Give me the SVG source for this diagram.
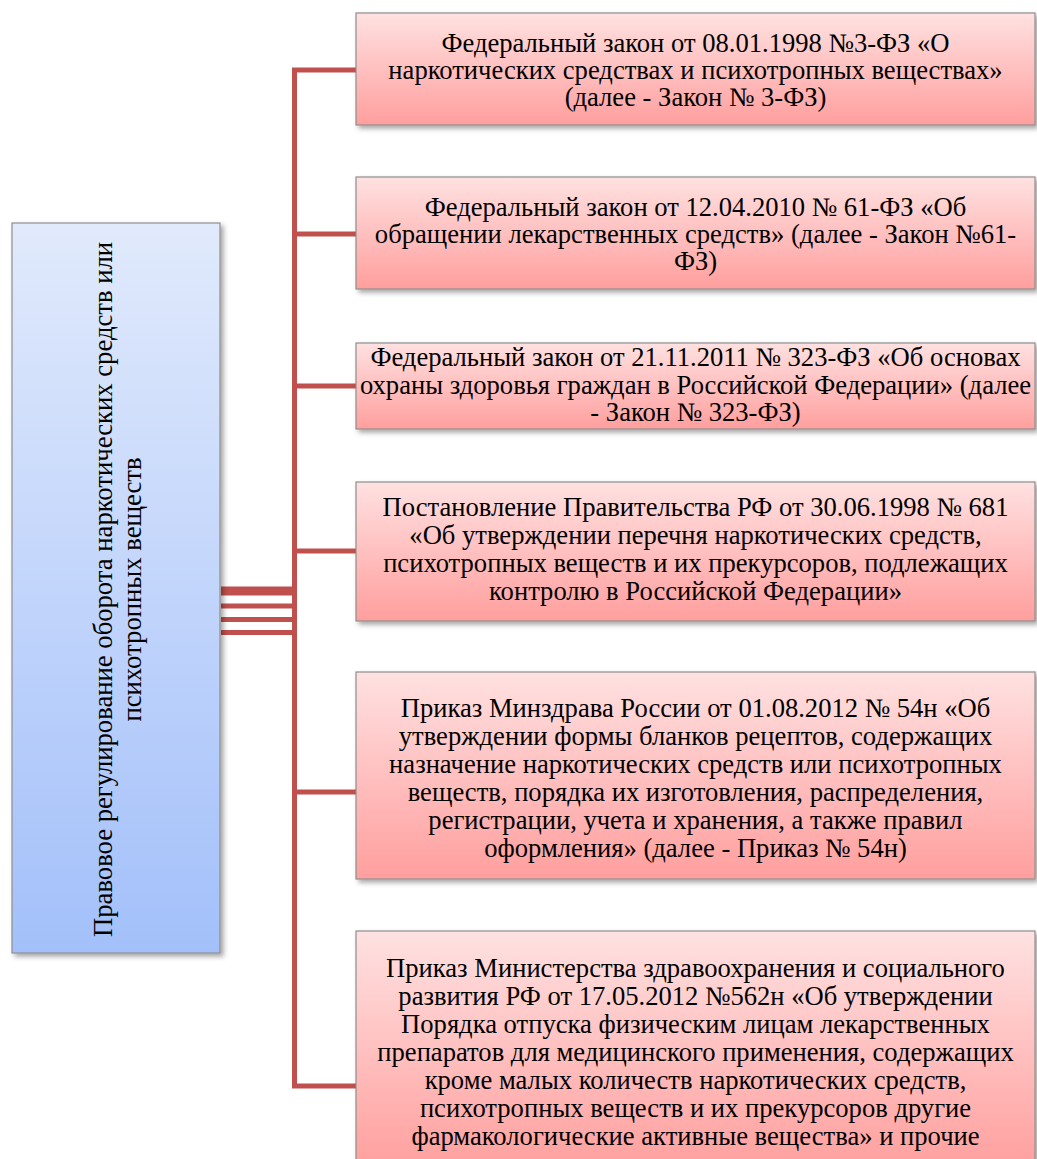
<svg xmlns="http://www.w3.org/2000/svg" width="1037" height="1159" viewBox="0 0 1037 1159">
<defs>
<linearGradient id="gBlue" x1="0" y1="0" x2="0" y2="1">
<stop offset="0" stop-color="#e1eafc"/>
<stop offset="1" stop-color="#a3c0fa"/>
</linearGradient>
<linearGradient id="gRed" x1="0" y1="0" x2="0" y2="1">
<stop offset="0" stop-color="#ffe1e1"/>
<stop offset="1" stop-color="#ff9f9e"/>
</linearGradient>
<filter id="sh" x="-5%" y="-5%" width="115%" height="115%">
<feDropShadow dx="3" dy="3" stdDeviation="2.5" flood-color="#000" flood-opacity="0.35"/>
</filter>
<style>
.box{stroke:#8e8e8e;stroke-width:1.2;filter:url(#sh)}
.red{fill:url(#gRed)}
.blue{fill:url(#gBlue)}
.t{font-family:"Liberation Serif","Times New Roman",serif;font-size:26.6px;fill:#000;text-anchor:middle}
.v{font-size:28px}
.c{stroke:#c0504d;stroke-width:5;fill:none}
</style>
</defs>
<g id="connectors">
<path class="c" d="M356 70 H294.5 V1086 H356"/>
<line class="c" x1="294.5" y1="234" x2="356" y2="234"/>
<line class="c" x1="294.5" y1="386" x2="356" y2="386"/>
<line class="c" x1="294.5" y1="551" x2="356" y2="551"/>
<line class="c" x1="294.5" y1="792" x2="356" y2="792"/>
<line class="c" x1="221" y1="589" x2="294.5" y2="589"/>
<line class="c" x1="221" y1="593" x2="294.5" y2="593"/>
<line class="c" x1="221" y1="606" x2="294.5" y2="606"/>
<line class="c" x1="221" y1="619.5" x2="294.5" y2="619.5"/>
<line class="c" x1="221" y1="632.5" x2="294.5" y2="632.5"/>
</g>
<g id="root">
<rect class="box blue" x="12" y="223" width="208" height="730"/>
<text class="t v" transform="translate(116 589.5) rotate(-90) scale(0.953 1)"><tspan x="0" y="-4.5">Правовое регулирование оборота наркотических средств или</tspan><tspan x="0" y="24.5">психотропных веществ</tspan></text>
</g>
<g id="n1">
<rect class="box red" x="356" y="13" width="679" height="112"/>
<text class="t"><tspan x="695.5" y="52">Федеральный закон от 08.01.1998 №3-ФЗ «О</tspan><tspan x="695.5" y="79">наркотических средствах и психотропных веществах»</tspan><tspan x="695.5" y="106">(далее - Закон № 3-ФЗ)</tspan></text>
</g>
<g id="n2">
<rect class="box red" x="356" y="177" width="679" height="112"/>
<text class="t"><tspan x="695.5" y="216">Федеральный закон от 12.04.2010 № 61-ФЗ «Об</tspan><tspan x="695.5" y="243">обращении лекарственных средств» (далее - Закон №61-</tspan><tspan x="695.5" y="270">ФЗ)</tspan></text>
</g>
<g id="n3">
<rect class="box red" x="356" y="343" width="679" height="86"/>
<text class="t"><tspan x="695.5" y="366">Федеральный закон от 21.11.2011 № 323-ФЗ «Об основах</tspan><tspan x="695.5" y="393.5">охраны здоровья граждан в Российской Федерации» (далее</tspan><tspan x="695.5" y="421">- Закон № 323-ФЗ)</tspan></text>
</g>
<g id="n4">
<rect class="box red" x="356" y="482" width="679" height="139"/>
<text class="t"><tspan x="695.5" y="516">Постановление Правительства РФ от 30.06.1998 № 681</tspan><tspan x="695.5" y="544">«Об утверждении перечня наркотических средств,</tspan><tspan x="695.5" y="572">психотропных веществ и их прекурсоров, подлежащих</tspan><tspan x="695.5" y="600">контролю в Российской Федерации»</tspan></text>
</g>
<g id="n5">
<rect class="box red" x="356" y="672" width="679" height="207"/>
<text class="t"><tspan x="695.5" y="717">Приказ Минздрава России от 01.08.2012 № 54н «Об</tspan><tspan x="695.5" y="745">утверждении формы бланков рецептов, содержащих</tspan><tspan x="695.5" y="773">назначение наркотических средств или психотропных</tspan><tspan x="695.5" y="801">веществ, порядка их изготовления, распределения,</tspan><tspan x="695.5" y="829">регистрации, учета и хранения, а также правил</tspan><tspan x="695.5" y="857">оформления» (далее - Приказ № 54н)</tspan></text>
</g>
<g id="n6">
<rect class="box red" x="356" y="931" width="679" height="240"/>
<text class="t"><tspan x="695.5" y="977">Приказ Министерства здравоохранения и социального</tspan><tspan x="695.5" y="1005">развития РФ от 17.05.2012 №562н «Об утверждении</tspan><tspan x="695.5" y="1033">Порядка отпуска физическим лицам лекарственных</tspan><tspan x="695.5" y="1061">препаратов для медицинского применения, содержащих</tspan><tspan x="695.5" y="1089">кроме малых количеств наркотических средств,</tspan><tspan x="695.5" y="1117">психотропных веществ и их прекурсоров другие</tspan><tspan x="695.5" y="1145">фармакологические активные вещества» и прочие</tspan></text>
</g>
</svg>
